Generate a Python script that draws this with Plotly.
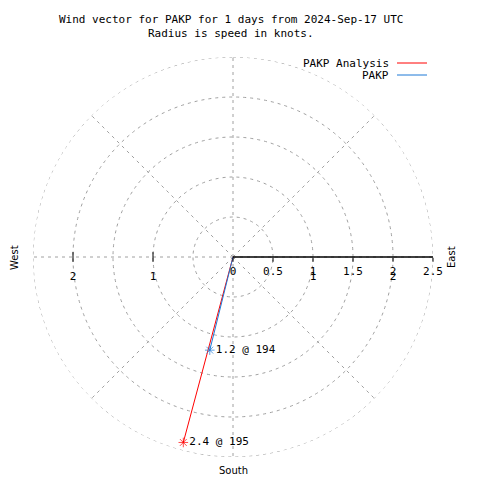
import plotly.graph_objects as go

# data
series_names = ["PAKP Analysis", "PAKP"]
speeds = [2.4, 1.2]          # knots
directions = [195, 194]      # degrees
colors = ["#ff0000", "#1c78d6"]
radial_ticks = [0, 0.5, 1, 1.5, 2, 2.5]
grid_label_r = [1, 2, 1, 2]
grid_label_theta = [270, 270, 90, 90]
r_max = 2.5

MONO = "DejaVu Sans Mono"
SANS = "DejaVu Sans"
OFF = 8  # page body margin compensation
GRID = "#a0a0a0"
DASH = "3px,4px"

def px(x):
    return (x - OFF) / 480

def py(y):
    return 1 - (y - OFF) / 480

fig = go.Figure()

# outer grid circle (not drawn by plotly at the range edge)
circle_theta = list(range(0, 361))
fig.add_trace(go.Scatterpolar(
    r=[r_max] * len(circle_theta), theta=circle_theta, mode="lines",
    line=dict(color=GRID, width=1, dash=DASH),
    showlegend=False, hoverinfo="skip"))

# grid labels drawn by gnuplot on both sides
fig.add_trace(go.Scatterpolar(
    r=grid_label_r, theta=grid_label_theta, mode="markers+text",
    text=[str(v) for v in grid_label_r], textposition="bottom center",
    marker=dict(symbol="line-ns", size=22, color="rgba(0,0,0,0)",
                line=dict(width=0)),
    textfont=dict(family=MONO, size=11, color="black"),
    showlegend=False, hoverinfo="skip", cliponaxis=False))
# left-side tick marks
fig.add_trace(go.Scatterpolar(
    r=grid_label_r[:2], theta=grid_label_theta[:2], mode="markers",
    marker=dict(symbol="line-ns", size=7, color="black",
                line=dict(width=1, color="black")),
    showlegend=False, hoverinfo="skip"))

for name, s, d, c in zip(series_names, speeds, directions, colors):
    fig.add_trace(go.Scatterpolar(
        r=[0, s], theta=[0, d], mode="lines+markers+text", name=name,
        line=dict(color=c, width=1),
        marker=dict(symbol=["circle", "asterisk-open"], size=[0.1, 8],
                    color=c, line=dict(color=c, width=1)),
        text=["", f"{s} @ {d}"], textposition="middle right",
        textfont=dict(family=MONO, size=11, color="black"),
        cliponaxis=False, showlegend=False))

fig.update_layout(
    width=480, height=480, paper_bgcolor="white", plot_bgcolor="white",
    margin=dict(l=0, r=0, t=0, b=0), showlegend=False,
    polar=dict(
        domain=dict(x=[25/480, 425/480], y=[31/480, 431/480]),
        bgcolor="white",
        angularaxis=dict(rotation=90, direction="clockwise", dtick=45,
                         showticklabels=False, ticks="", showline=False,
                         gridcolor=GRID, griddash=DASH, gridwidth=1),
        radialaxis=dict(range=[0, r_max], tickvals=radial_ticks,
                        ticktext=[f"{v:g}" for v in radial_ticks],
                        angle=0, side="clockwise", ticks="outside", ticklen=4,
                        tickcolor="black", showline=True, linecolor="black",
                        linewidth=1.5, gridcolor=GRID, griddash=DASH,
                        tickangle=0,
                        tickfont=dict(family=MONO, size=11, color="black")),
    ),
    font=dict(family=MONO, size=11, color="black"),
)

ann = [
    dict(text="Wind vector for PAKP for 1 days from 2024-Sep-17 UTC", x=231, y=19),
    dict(text="Radius is speed in knots.", x=231, y=33),
    dict(text="PAKP Analysis", x=391, y=63, xanchor="right"),
    dict(text="PAKP", x=391, y=75, xanchor="right"),
]
for a in ann:
    fig.add_annotation(xref="paper", yref="paper", showarrow=False,
                       xanchor=a.get("xanchor", "center"), yanchor="middle",
                       x=px(a["x"]), y=py(a["y"]), text=a["text"],
                       font=dict(family=MONO, size=11, color="black"))

for txt, x, y, ang in [("West", 14, 258, -90), ("East", 451, 257, -90), ("South", 233, 470, 0)]:
    fig.add_annotation(xref="paper", yref="paper", showarrow=False,
                       x=px(x), y=py(y), text=txt, textangle=ang,
                       xanchor="center", yanchor="middle",
                       font=dict(family=SANS, size=10, color="black"))

for c, y in zip(colors, [63, 75]):
    fig.add_shape(type="line", xref="paper", yref="paper",
                  x0=px(397), x1=px(427), y0=py(y), y1=py(y),
                  line=dict(color=c, width=1))

fig.write_html("out.html")
